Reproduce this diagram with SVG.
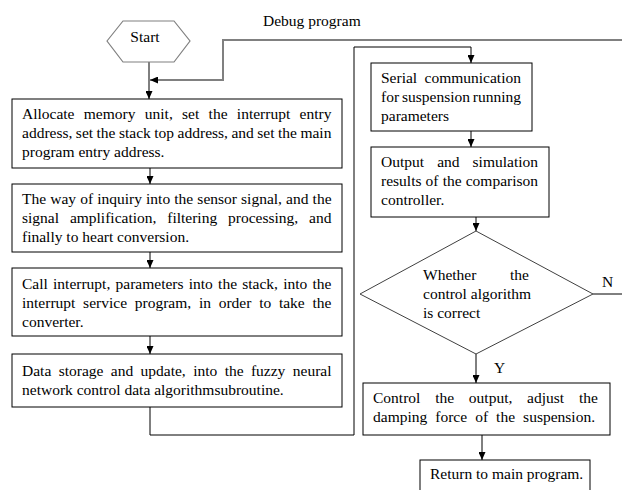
<svg xmlns="http://www.w3.org/2000/svg" width="622" height="490" viewBox="0 0 622 490">
<defs>
<style>
text{font-family:"Liberation Serif","Times New Roman",serif;font-size:15.5px;fill:#000}
.box{fill:#fff;stroke:#000;stroke-width:1}
.hex{fill:#fff;stroke:#808080;stroke-width:1.2}
.dia{fill:#fff;stroke:#404040;stroke-width:1}
.c{fill:none;stroke:#000;stroke-width:1}
.g{fill:none;stroke:#808080;stroke-width:2}
</style>
<marker id="ah" markerWidth="8" markerHeight="7" refX="8" refY="3.5" orient="auto" markerUnits="userSpaceOnUse">
<path d="M0,0 L8,3.5 L0,7 z" fill="#000"/>
</marker>
</defs>
<g id="connectors">
<path class="c" d="M149,62 V99" marker-end="url(#ah)"/>
<path class="g" d="M622,40 H223 V80 H158"/>
<path class="c" d="M158,80 H150" marker-end="url(#ah)"/>
<path class="c" d="M150,168 V184" marker-end="url(#ah)"/>
<path class="c" d="M150,252 V268" marker-end="url(#ah)"/>
<path class="c" d="M150,336 V354" marker-end="url(#ah)"/>
<path class="c" d="M150,407 V435 H354 V47 H471 V63" marker-end="url(#ah)"/>
<path class="c" d="M471,131 V147" marker-end="url(#ah)"/>
<path class="c" d="M476,217 V231" marker-end="url(#ah)"/>
<path class="c" d="M476,354 V383" marker-end="url(#ah)"/>
<path class="c" d="M593,294 H622"/>
<path class="c" d="M482,435 V460" marker-end="url(#ah)"/>
<text x="263" y="26">Debug program</text>
<text x="602" y="287">N</text>
<text x="494" y="373">Y</text>
</g>
<g id="start">
<polygon class="hex" points="107,41 123,21 174,21 190,41 174,62 123,62"/>
<text x="145" y="42" text-anchor="middle">Start</text>
</g>
<g id="allocate">
<rect class="box" x="12" y="99" width="330" height="69"/>
<text x="22" y="119" word-spacing="5.44">Allocate memory unit, set the interrupt entry</text>
<text x="22" y="138" word-spacing="-0.39">address, set the stack top address, and set the main</text>
<text x="22" y="157">program entry address.</text>
</g>
<g id="inquiry">
<rect class="box" x="12" y="184" width="330" height="68"/>
<text x="22" y="204" word-spacing="0.24">The way of inquiry into the sensor signal, and the</text>
<text x="22" y="223" word-spacing="6.98">signal amplification, filtering processing, and</text>
<text x="22" y="242">finally to heart conversion.</text>
</g>
<g id="interrupt">
<rect class="box" x="12" y="268" width="330" height="68"/>
<text x="22" y="289" word-spacing="1.35">Call interrupt, parameters into the stack, into the</text>
<text x="22" y="308" word-spacing="3.87">interrupt service program, in order to take the</text>
<text x="22" y="327">converter.</text>
</g>
<g id="storage">
<rect class="box" x="12" y="354" width="330" height="53"/>
<text x="22" y="376" word-spacing="3.51">Data storage and update, into the fuzzy neural</text>
<text x="22" y="395">network control data algorithmsubroutine.</text>
</g>
<g id="serial">
<rect class="box" x="371" y="63" width="161" height="68"/>
<text x="381" y="83" word-spacing="3.5">Serial communication</text>
<text x="381" y="102" word-spacing="-1">for suspension running</text>
<text x="381" y="121">parameters</text>
</g>
<g id="output">
<rect class="box" x="371" y="147" width="178" height="70"/>
<text x="381" y="167" word-spacing="9.2">Output and simulation</text>
<text x="381" y="186" word-spacing="0.26">results of the comparison</text>
<text x="381" y="205">controller.</text>
</g>
<g id="decision">
<polygon class="dia" points="476,231 593,294 476,354 360,294"/>
<text x="423" y="280" word-spacing="29.8">Whether the</text>
<text x="423" y="299">control algorithm</text>
<text x="423" y="318">is correct</text>
</g>
<g id="control">
<rect class="box" x="363" y="383" width="247" height="52"/>
<text x="373" y="403" word-spacing="10.9">Control the output, adjust the</text>
<text x="373" y="422" word-spacing="4.17">damping force of the suspension.</text>
</g>
<g id="return">
<rect class="box" x="420" y="460" width="170" height="40"/>
<text x="430" y="479">Return to main program.</text>
</g>
</svg>
